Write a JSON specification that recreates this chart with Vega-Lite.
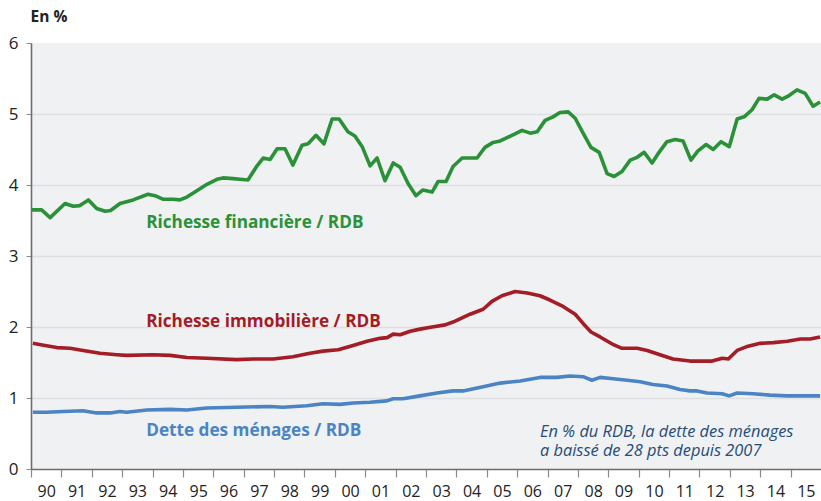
{
  "$schema": "https://vega.github.io/schema/vega-lite/v6.json",
  "width": 790,
  "height": 426,
  "autosize": {"type": "none"},
  "padding": {"left": 31, "top": 43, "right": 0, "bottom": 32},
  "background": "white",
  "config": {
    "view": {"fill": "#f0f1f3", "stroke": null},
    "font": "Open Sans"
  },
  "datasets": {
    "series": [
      {"s": "fin", "t": 1990.02, "v": 3.65}, {"s": "fin", "t": 1990.35, "v": 3.65}, {"s": "fin", "t": 1990.63, "v": 3.54}, {"s": "fin", "t": 1991.12, "v": 3.74},
      {"s": "fin", "t": 1991.39, "v": 3.70}, {"s": "fin", "t": 1991.61, "v": 3.71}, {"s": "fin", "t": 1991.89, "v": 3.79}, {"s": "fin", "t": 1992.16, "v": 3.67},
      {"s": "fin", "t": 1992.44, "v": 3.63}, {"s": "fin", "t": 1992.62, "v": 3.64}, {"s": "fin", "t": 1992.93, "v": 3.74}, {"s": "fin", "t": 1993.36, "v": 3.79},
      {"s": "fin", "t": 1993.85, "v": 3.87}, {"s": "fin", "t": 1994.08, "v": 3.85}, {"s": "fin", "t": 1994.34, "v": 3.80}, {"s": "fin", "t": 1994.67, "v": 3.80},
      {"s": "fin", "t": 1994.90, "v": 3.79}, {"s": "fin", "t": 1995.13, "v": 3.83}, {"s": "fin", "t": 1995.46, "v": 3.92}, {"s": "fin", "t": 1995.79, "v": 4.01},
      {"s": "fin", "t": 1996.12, "v": 4.08}, {"s": "fin", "t": 1996.32, "v": 4.10}, {"s": "fin", "t": 1996.65, "v": 4.09}, {"s": "fin", "t": 1996.88, "v": 4.08},
      {"s": "fin", "t": 1997.14, "v": 4.07}, {"s": "fin", "t": 1997.44, "v": 4.27}, {"s": "fin", "t": 1997.64, "v": 4.38}, {"s": "fin", "t": 1997.87, "v": 4.36},
      {"s": "fin", "t": 1998.10, "v": 4.51}, {"s": "fin", "t": 1998.36, "v": 4.51}, {"s": "fin", "t": 1998.62, "v": 4.28}, {"s": "fin", "t": 1998.92, "v": 4.56},
      {"s": "fin", "t": 1999.12, "v": 4.58}, {"s": "fin", "t": 1999.38, "v": 4.70}, {"s": "fin", "t": 1999.64, "v": 4.58}, {"s": "fin", "t": 1999.91, "v": 4.93},
      {"s": "fin", "t": 2000.14, "v": 4.93}, {"s": "fin", "t": 2000.43, "v": 4.75}, {"s": "fin", "t": 2000.66, "v": 4.69}, {"s": "fin", "t": 2000.90, "v": 4.54},
      {"s": "fin", "t": 2001.16, "v": 4.27}, {"s": "fin", "t": 2001.39, "v": 4.38}, {"s": "fin", "t": 2001.65, "v": 4.06}, {"s": "fin", "t": 2001.92, "v": 4.31},
      {"s": "fin", "t": 2002.15, "v": 4.25}, {"s": "fin", "t": 2002.41, "v": 4.02}, {"s": "fin", "t": 2002.67, "v": 3.85}, {"s": "fin", "t": 2002.90, "v": 3.93},
      {"s": "fin", "t": 2003.20, "v": 3.90}, {"s": "fin", "t": 2003.40, "v": 4.05}, {"s": "fin", "t": 2003.66, "v": 4.05}, {"s": "fin", "t": 2003.89, "v": 4.26},
      {"s": "fin", "t": 2004.19, "v": 4.38}, {"s": "fin", "t": 2004.68, "v": 4.38}, {"s": "fin", "t": 2004.94, "v": 4.53}, {"s": "fin", "t": 2005.21, "v": 4.60},
      {"s": "fin", "t": 2005.44, "v": 4.62}, {"s": "fin", "t": 2005.93, "v": 4.72}, {"s": "fin", "t": 2006.16, "v": 4.77}, {"s": "fin", "t": 2006.43, "v": 4.73},
      {"s": "fin", "t": 2006.66, "v": 4.75}, {"s": "fin", "t": 2006.92, "v": 4.91}, {"s": "fin", "t": 2007.18, "v": 4.96}, {"s": "fin", "t": 2007.41, "v": 5.02},
      {"s": "fin", "t": 2007.68, "v": 5.03}, {"s": "fin", "t": 2007.91, "v": 4.94}, {"s": "fin", "t": 2008.17, "v": 4.73}, {"s": "fin", "t": 2008.43, "v": 4.53},
      {"s": "fin", "t": 2008.70, "v": 4.46}, {"s": "fin", "t": 2008.96, "v": 4.16}, {"s": "fin", "t": 2009.19, "v": 4.12}, {"s": "fin", "t": 2009.45, "v": 4.19},
      {"s": "fin", "t": 2009.72, "v": 4.35}, {"s": "fin", "t": 2009.95, "v": 4.39}, {"s": "fin", "t": 2010.18, "v": 4.46}, {"s": "fin", "t": 2010.44, "v": 4.31},
      {"s": "fin", "t": 2010.67, "v": 4.46}, {"s": "fin", "t": 2010.93, "v": 4.61}, {"s": "fin", "t": 2011.20, "v": 4.64}, {"s": "fin", "t": 2011.46, "v": 4.62},
      {"s": "fin", "t": 2011.72, "v": 4.35}, {"s": "fin", "t": 2011.95, "v": 4.48}, {"s": "fin", "t": 2012.22, "v": 4.57}, {"s": "fin", "t": 2012.45, "v": 4.50},
      {"s": "fin", "t": 2012.71, "v": 4.61}, {"s": "fin", "t": 2012.98, "v": 4.54}, {"s": "fin", "t": 2013.24, "v": 4.93}, {"s": "fin", "t": 2013.47, "v": 4.96},
      {"s": "fin", "t": 2013.73, "v": 5.06}, {"s": "fin", "t": 2013.96, "v": 5.22}, {"s": "fin", "t": 2014.23, "v": 5.21}, {"s": "fin", "t": 2014.46, "v": 5.27},
      {"s": "fin", "t": 2014.72, "v": 5.21}, {"s": "fin", "t": 2014.95, "v": 5.26}, {"s": "fin", "t": 2015.21, "v": 5.34}, {"s": "fin", "t": 2015.48, "v": 5.29},
      {"s": "fin", "t": 2015.74, "v": 5.11}, {"s": "fin", "t": 2015.97, "v": 5.17},

      {"s": "immo", "t": 1990.06, "v": 1.77}, {"s": "immo", "t": 1990.46, "v": 1.74}, {"s": "immo", "t": 1990.85, "v": 1.71}, {"s": "immo", "t": 1991.28, "v": 1.70},
      {"s": "immo", "t": 1991.72, "v": 1.67}, {"s": "immo", "t": 1992.27, "v": 1.63}, {"s": "immo", "t": 1992.82, "v": 1.61}, {"s": "immo", "t": 1993.15, "v": 1.60},
      {"s": "immo", "t": 1994.02, "v": 1.61}, {"s": "immo", "t": 1994.58, "v": 1.60}, {"s": "immo", "t": 1995.13, "v": 1.57}, {"s": "immo", "t": 1995.78, "v": 1.56},
      {"s": "immo", "t": 1996.77, "v": 1.54}, {"s": "immo", "t": 1997.31, "v": 1.55}, {"s": "immo", "t": 1997.97, "v": 1.55}, {"s": "immo", "t": 1998.62, "v": 1.58},
      {"s": "immo", "t": 1999.18, "v": 1.63}, {"s": "immo", "t": 1999.61, "v": 1.66}, {"s": "immo", "t": 2000.11, "v": 1.68}, {"s": "immo", "t": 2000.60, "v": 1.74},
      {"s": "immo", "t": 2001.06, "v": 1.80}, {"s": "immo", "t": 2001.49, "v": 1.84}, {"s": "immo", "t": 2001.72, "v": 1.85}, {"s": "immo", "t": 2001.92, "v": 1.90},
      {"s": "immo", "t": 2002.15, "v": 1.89}, {"s": "immo", "t": 2002.48, "v": 1.94}, {"s": "immo", "t": 2002.80, "v": 1.97}, {"s": "immo", "t": 2003.20, "v": 2.00},
      {"s": "immo", "t": 2003.63, "v": 2.03}, {"s": "immo", "t": 2003.89, "v": 2.07}, {"s": "immo", "t": 2004.45, "v": 2.18}, {"s": "immo", "t": 2004.88, "v": 2.25},
      {"s": "immo", "t": 2005.17, "v": 2.36}, {"s": "immo", "t": 2005.50, "v": 2.44}, {"s": "immo", "t": 2005.93, "v": 2.50}, {"s": "immo", "t": 2006.33, "v": 2.48},
      {"s": "immo", "t": 2006.75, "v": 2.44}, {"s": "immo", "t": 2007.08, "v": 2.38}, {"s": "immo", "t": 2007.51, "v": 2.29}, {"s": "immo", "t": 2007.91, "v": 2.18},
      {"s": "immo", "t": 2008.17, "v": 2.05}, {"s": "immo", "t": 2008.43, "v": 1.93}, {"s": "immo", "t": 2008.73, "v": 1.86}, {"s": "immo", "t": 2009.13, "v": 1.76},
      {"s": "immo", "t": 2009.45, "v": 1.70}, {"s": "immo", "t": 2009.95, "v": 1.70}, {"s": "immo", "t": 2010.28, "v": 1.67}, {"s": "immo", "t": 2010.70, "v": 1.61},
      {"s": "immo", "t": 2011.13, "v": 1.55}, {"s": "immo", "t": 2011.69, "v": 1.52}, {"s": "immo", "t": 2012.02, "v": 1.52}, {"s": "immo", "t": 2012.42, "v": 1.52},
      {"s": "immo", "t": 2012.75, "v": 1.56}, {"s": "immo", "t": 2012.95, "v": 1.55}, {"s": "immo", "t": 2013.24, "v": 1.67}, {"s": "immo", "t": 2013.60, "v": 1.73},
      {"s": "immo", "t": 2014.00, "v": 1.77}, {"s": "immo", "t": 2014.43, "v": 1.78}, {"s": "immo", "t": 2014.89, "v": 1.80}, {"s": "immo", "t": 2015.32, "v": 1.83},
      {"s": "immo", "t": 2015.64, "v": 1.83}, {"s": "immo", "t": 2015.97, "v": 1.86},

      {"s": "dette", "t": 1990.06, "v": 0.80}, {"s": "dette", "t": 1990.52, "v": 0.80}, {"s": "dette", "t": 1991.05, "v": 0.81}, {"s": "dette", "t": 1991.71, "v": 0.82},
      {"s": "dette", "t": 1992.16, "v": 0.79}, {"s": "dette", "t": 1992.60, "v": 0.79}, {"s": "dette", "t": 1992.93, "v": 0.81}, {"s": "dette", "t": 1993.15, "v": 0.80},
      {"s": "dette", "t": 1993.81, "v": 0.83}, {"s": "dette", "t": 1994.58, "v": 0.84}, {"s": "dette", "t": 1995.13, "v": 0.83}, {"s": "dette", "t": 1995.78, "v": 0.86},
      {"s": "dette", "t": 1996.77, "v": 0.87}, {"s": "dette", "t": 1997.87, "v": 0.88}, {"s": "dette", "t": 1998.29, "v": 0.87}, {"s": "dette", "t": 1999.08, "v": 0.89},
      {"s": "dette", "t": 1999.61, "v": 0.92}, {"s": "dette", "t": 2000.17, "v": 0.91}, {"s": "dette", "t": 2000.60, "v": 0.93}, {"s": "dette", "t": 2001.16, "v": 0.94},
      {"s": "dette", "t": 2001.71, "v": 0.96}, {"s": "dette", "t": 2001.92, "v": 0.99}, {"s": "dette", "t": 2002.24, "v": 0.99}, {"s": "dette", "t": 2002.80, "v": 1.03},
      {"s": "dette", "t": 2003.36, "v": 1.07}, {"s": "dette", "t": 2003.89, "v": 1.10}, {"s": "dette", "t": 2004.22, "v": 1.10}, {"s": "dette", "t": 2004.88, "v": 1.16},
      {"s": "dette", "t": 2005.44, "v": 1.21}, {"s": "dette", "t": 2006.10, "v": 1.24}, {"s": "dette", "t": 2006.75, "v": 1.29}, {"s": "dette", "t": 2007.31, "v": 1.29},
      {"s": "dette", "t": 2007.74, "v": 1.31}, {"s": "dette", "t": 2008.17, "v": 1.30}, {"s": "dette", "t": 2008.46, "v": 1.25}, {"s": "dette", "t": 2008.73, "v": 1.29},
      {"s": "dette", "t": 2009.16, "v": 1.27}, {"s": "dette", "t": 2009.62, "v": 1.25}, {"s": "dette", "t": 2010.05, "v": 1.23}, {"s": "dette", "t": 2010.47, "v": 1.19},
      {"s": "dette", "t": 2010.93, "v": 1.17}, {"s": "dette", "t": 2011.36, "v": 1.12}, {"s": "dette", "t": 2011.69, "v": 1.10}, {"s": "dette", "t": 2011.92, "v": 1.10},
      {"s": "dette", "t": 2012.25, "v": 1.07}, {"s": "dette", "t": 2012.75, "v": 1.06}, {"s": "dette", "t": 2012.98, "v": 1.03}, {"s": "dette", "t": 2013.24, "v": 1.07},
      {"s": "dette", "t": 2013.76, "v": 1.06}, {"s": "dette", "t": 2014.32, "v": 1.04}, {"s": "dette", "t": 2014.89, "v": 1.03}, {"s": "dette", "t": 2015.54, "v": 1.03},
      {"s": "dette", "t": 2015.97, "v": 1.03}
    ],
    "labels": [
      {"s": "fin", "t": 1993.79, "v": 3.40, "label": "Richesse financière / RDB"},
      {"s": "immo", "t": 1993.79, "v": 2.00, "label": "Richesse immobilière / RDB"},
      {"s": "dette", "t": 1993.79, "v": 0.465, "label": "Dette des ménages / RDB"}
    ],
    "notes": [
      {"t": 2006.75, "v": 0.45, "label": "En % du RDB, la dette des ménages\na baissé de 28 pts depuis 2007"}
    ]
  },
  "encoding": {
    "x": {
      "field": "t", "type": "quantitative",
      "scale": {"domain": [1990, 2016], "nice": false, "zero": false},
      "axis": {
        "title": null,
        "values": [1990,1991,1992,1993,1994,1995,1996,1997,1998,1999,2000,2001,2002,2003,2004,2005,2006,2007,2008,2009,2010,2011,2012,2013,2014,2015],
        "labelExpr": "substring(toString(datum.value), 2, 4)",
        "labelOffset": 15.2,
        "labelFontSize": 16,
        "labelColor": "#222222",
        "labelPadding": 6,
        "labelFlush": false,
        "labelOverlap": false,
        "tickSize": 8,
        "tickColor": "#8a8a8a",
        "tickWidth": 1.2,
        "domainColor": "#6e6e6e",
        "domainWidth": 1.6,
        "grid": false
      }
    },
    "y": {
      "field": "v", "type": "quantitative",
      "scale": {"domain": [0, 6], "nice": false},
      "axis": {
        "title": "En %",
        "titleAngle": 0,
        "titleAlign": "left",
        "titleBaseline": "alphabetic",
        "titleX": -1,
        "titleY": -22,
        "titleFontSize": 15.5,
        "titleFontWeight": "bold",
        "titleColor": "#222222",
        "values": [0, 1, 2, 3, 4, 5, 6],
        "labelFontSize": 17,
        "labelColor": "#222222",
        "labelPadding": 8,
        "tickSize": 5,
        "tickColor": "#8a8a8a",
        "domainColor": "#6e6e6e",
        "domainWidth": 1.6,
        "grid": true,
        "gridColor": {"condition": {"test": "datum.value > 0 && datum.value < 6", "value": "#dfe0e2"}, "value": "transparent"},
        "gridWidth": 1.5
      }
    }
  },
  "layer": [
    {
      "data": {"name": "series"},
      "mark": {"type": "line", "strokeWidth": 3.6, "strokeJoin": "round", "strokeCap": "butt"},
      "encoding": {
        "color": {
          "field": "s", "type": "nominal",
          "scale": {"domain": ["fin", "immo", "dette"], "range": ["#2b9139", "#a31c26", "#4a84c4"]},
          "legend": null
        }
      }
    },
    {
      "data": {"name": "labels"},
      "mark": {"type": "text", "align": "left", "baseline": "alphabetic", "fontSize": 17.2, "fontWeight": "bold"},
      "encoding": {
        "text": {"field": "label"},
        "color": {
          "field": "s", "type": "nominal",
          "scale": {"domain": ["fin", "immo", "dette"], "range": ["#2b9139", "#a31c26", "#2f7cc2"]},
          "legend": null
        }
      }
    },
    {
      "data": {"name": "notes"},
      "mark": {"type": "text", "align": "left", "baseline": "alphabetic", "fontSize": 16.4, "fontStyle": "italic", "color": "#274c77", "lineBreak": "\n", "lineHeight": 19},
      "encoding": {"text": {"field": "label"}}
    }
  ]
}
